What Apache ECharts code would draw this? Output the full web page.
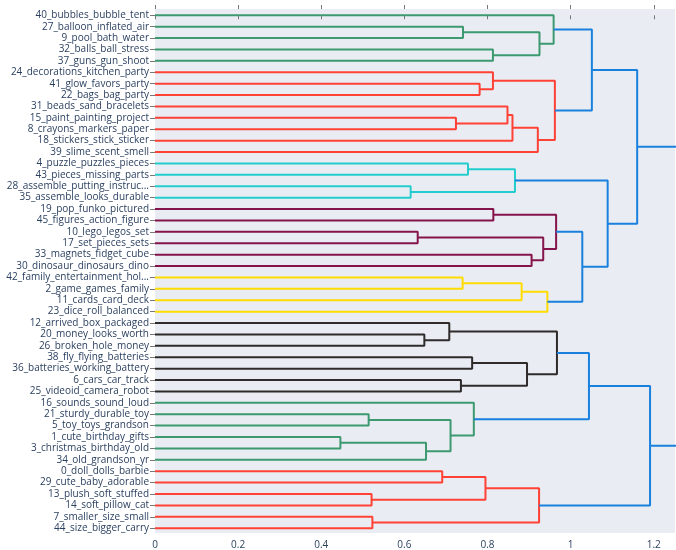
<!DOCTYPE html>
<html>
<head>
<meta charset="utf-8">
<script src="https://cdn.jsdelivr.net/npm/echarts@6/dist/echarts.min.js"></script>
<style>html,body{margin:0;padding:0;background:#fff;}#c{width:676px;height:550px;}</style>
</head>
<body>
<div id="c"></div>
<script>
// Leaf labels, top to bottom
const leaves = [
  "40_bubbles_bubble_tent","27_balloon_inflated_air","9_pool_bath_water","32_balls_ball_stress","37_guns_gun_shoot",
  "24_decorations_kitchen_party","41_glow_favors_party","22_bags_bag_party","31_beads_sand_bracelets","15_paint_painting_project",
  "8_crayons_markers_paper","18_stickers_stick_sticker","39_slime_scent_smell","4_puzzle_puzzles_pieces","43_pieces_missing_parts",
  "28_assemble_putting_instruc...","35_assemble_looks_durable","19_pop_funko_pictured","45_figures_action_figure","10_lego_legos_set",
  "17_set_pieces_sets","33_magnets_fidget_cube","30_dinosaur_dinosaurs_dino","42_family_entertainment_hol...","2_game_games_family",
  "11_cards_card_deck","23_dice_roll_balanced","12_arrived_box_packaged","20_money_looks_worth","26_broken_hole_money",
  "38_fly_flying_batteries","36_batteries_working_battery","6_cars_car_track","25_videoid_camera_robot","16_sounds_sound_loud",
  "21_sturdy_durable_toy","5_toy_toys_grandson","1_cute_birthday_gifts","3_christmas_birthday_old","34_old_grandson_yr",
  "0_doll_dolls_barbie","29_cute_baby_adorable","13_plush_soft_stuffed","14_soft_pillow_cat","7_smaller_size_small",
  "44_size_bigger_carry"
];
// Merges: child A, child B (leaf index < 46, else merge id = 46 + position), height, colour key
const mergeA = [1,3,46,0, 6,5,9,8,53,54,51, 49, 13,15,58, 17,19,21,62,61, 23,66,67, 65,60,57, 28,27,30,32,74,73, 35,37,79,78,34, 77, 40,42,84,44,86, 83, 71];
const mergeB = [2,4,47,48, 7,50,10,52,11,12,55, 56, 14,16,59, 18,20,22,63,64, 24,25,26, 68,69,70, 29,72,31,33,75,76, 36,38,39,80,81, 82, 41,43,85,45,87, 88, 89];
const mergeH = [0.741,0.813,0.925,0.959, 0.781,0.813,0.724,0.848,0.860,0.921,0.962, 1.051, 0.753,0.615,0.866, 0.814,0.632,0.906,0.934,0.965, 0.740,0.882,0.944, 1.028,1.089,1.160, 0.648,0.708,0.763,0.736,0.895,0.967, 0.514,0.446,0.652,0.711,0.767, 1.044, 0.691,0.521,0.795,0.523,0.924, 1.191, 1.30];
const mergeC = ["g","g","g","g", "r","r","r","r","r","r","r", "b", "c","c","c", "m","m","m","m","m", "y","y","y", "b","b","b", "k","k","k","k","k","k", "g","g","g","g","g", "b", "r","r","r","r","r", "b", "b"];
const xTicks = [0,0.2,0.4,0.6,0.8,1,1.2];

const palette = {b:"#1a80de", g:"#3d9970", c:"#23cdcd", r:"#ff4136", m:"#85144b", y:"#ffdc00", k:"#2f2b2b"};
const N = leaves.length;
const nodeY = [], nodeX = [];
for (let i = 0; i < N; i++) { nodeY[i] = i; nodeX[i] = 0; }
const series = [];
for (let j = 0; j < mergeA.length; j++) {
  const a = mergeA[j], b = mergeB[j], h = mergeH[j];
  const id = N + j;
  nodeY[id] = (nodeY[a] + nodeY[b]) / 2;
  nodeX[id] = h;
  series.push({
    type: 'line', silent: true, showSymbol: false, symbol: 'none', clip: true, animation: false,
    lineStyle: {color: palette[mergeC[j]], width: 2},
    data: [[nodeX[a], nodeY[a]], [h, nodeY[a]], [h, nodeY[b]], [nodeX[b], nodeY[b]]]
  });
}
const leafIdx = leaves.map((_, i) => i);
const font = '"Open Sans", "DejaVu Sans", sans-serif';
const chart = echarts.init(document.getElementById('c'), null, {renderer: 'canvas'});
chart.setOption({
  backgroundColor: '#ffffff',
  animation: false,
  grid: {left: 155, right: 1, top: 9, bottom: 16, show: true, backgroundColor: '#e9edf3', borderWidth: 0},
  xAxis: [{
    type: 'value', min: 0, max: 1.251, position: 'bottom',
    axisLine: {show: false}, splitLine: {show: false},
    axisTick: {show: true, length: 4, customValues: xTicks, lineStyle: {color: '#777'}},
    axisLabel: {customValues: xTicks, margin: 7, fontSize: 10, color: '#2a3f5f', fontFamily: font}
  }, {
    type: 'value', min: 0, max: 1.251, position: 'top',
    axisLine: {show: false}, splitLine: {show: false},
    axisTick: {show: true, length: 4, customValues: xTicks, lineStyle: {color: '#777'}},
    axisLabel: {show: false}
  }],
  yAxis: {
    type: 'value', inverse: true, min: -0.55, max: 45.42,
    axisLine: {show: false}, splitLine: {show: false},
    axisTick: {show: true, length: 5, customValues: leafIdx, lineStyle: {color: '#777'}},
    axisLabel: {customValues: leafIdx, margin: 6, fontSize: 10, color: '#2a3f5f', fontFamily: font,
      formatter: v => leaves[Math.round(v)] || ''}
  },
  series: series
});
</script>
</body>
</html>
